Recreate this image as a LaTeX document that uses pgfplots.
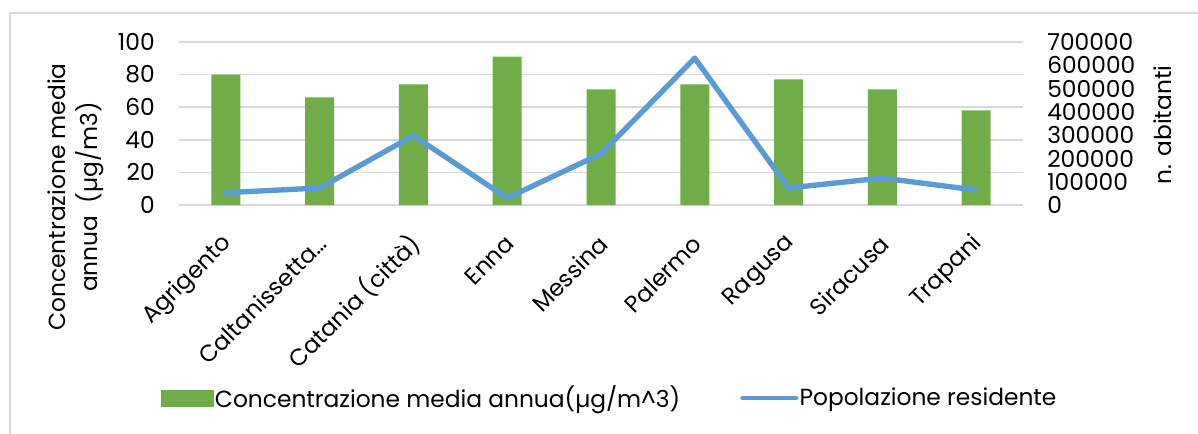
\documentclass[border=0pt]{standalone}
\usepackage{fontspec}
\setmainfont{Poppins}
\usepackage{pgfplots}
\pgfplotsset{compat=1.18}
\definecolor{barg}{HTML}{70AD47}
\definecolor{lineb}{HTML}{5B9BD5}
\definecolor{gridg}{HTML}{D9D9D9}

\newcommand\chartfont{\fontsize{17.5}{21}\selectfont}

\pgfplotsset{
  common/.style={
    at={(134.25pt,171pt)}, anchor=south west,
    width=633pt, height=122.25pt, scale only axis,
    xmin=-0.5, xmax=8.5,
    major tick length=0pt,
    tick label style={font=\chartfont, inner sep=0pt},
  }
}

\begin{document}
\begin{tikzpicture}[font=\chartfont]
\useasboundingbox (0,0) rectangle (898.5pt,324.75pt);
\draw[gridg, line width=1.5pt] (7.5pt,-10pt) rectangle (910pt,315pt);

% left axis: concentration bars
\begin{axis}[common,
  ymin=0, ymax=100,
  ytick={0,20,...,100},
  xtick={0,...,8},
  xticklabels={Agrigento, Caltanissetta…, Catania (città), Enna, Messina, Palermo, Ragusa, Siracusa, Trapani},
  xticklabel style={yshift=-26pt, xshift=2pt, rotate=45, anchor=east},
  yticklabel style={anchor=east, xshift=-18pt, /pgf/number format/assume math mode=true},
  ymajorgrids, grid style={gridg, line width=1.1pt},
  axis line style={draw=none},
]
\addplot[ybar, bar width=21.75pt, fill=barg, draw=none] coordinates {
  (0,80) (1,66) (2,74) (3,91) (4,71) (5,74) (6,77) (7,71) (8,58)};
\end{axis}

% right axis: resident population
\begin{axis}[common,
  ymin=0, ymax=700000,
  ytick={0,100000,...,700000},
  scaled y ticks=false,
  axis x line=none, axis y line*=right,
  axis line style={draw=none},
  yticklabel style={anchor=west, xshift=18pt,
    /pgf/number format/.cd, fixed, 1000 sep={}, assume math mode=true},
  legend style={at={(0.51,-1.184)}, anchor=center, draw=none, fill=none,
    legend columns=2, font=\chartfont,
    /tikz/every even column/.append style={column sep=44pt},
    nodes={inner sep=1pt}},
]
\addlegendimage{legend image code/.code={\fill[barg] (0pt,-6pt) rectangle (39pt,6pt);}}
\addlegendentry{Concentrazione media annua(µg/m\string^3)}
\addplot[lineb, line width=4pt, line join=round, line cap=round,
  legend image code/.code={\draw[lineb, line width=3.5pt, line cap=round] (1pt,0pt) -- (41pt,0pt);}]
  coordinates {
  (0,53000) (1,73000) (2,298000) (3,30000) (4,220000) (5,631000) (6,73000) (7,116000) (8,64000)};
\addlegendentry{Popolazione residente}
\end{axis}

\node[rotate=90, align=center, font=\fontsize{17.5}{24}\selectfont] at (57pt,177pt)
  {Concentrazione media\\annua\ \ (µg/m3)};
\node[rotate=90] at (872pt,231pt) {n. abitanti};
\end{tikzpicture}
\end{document}
